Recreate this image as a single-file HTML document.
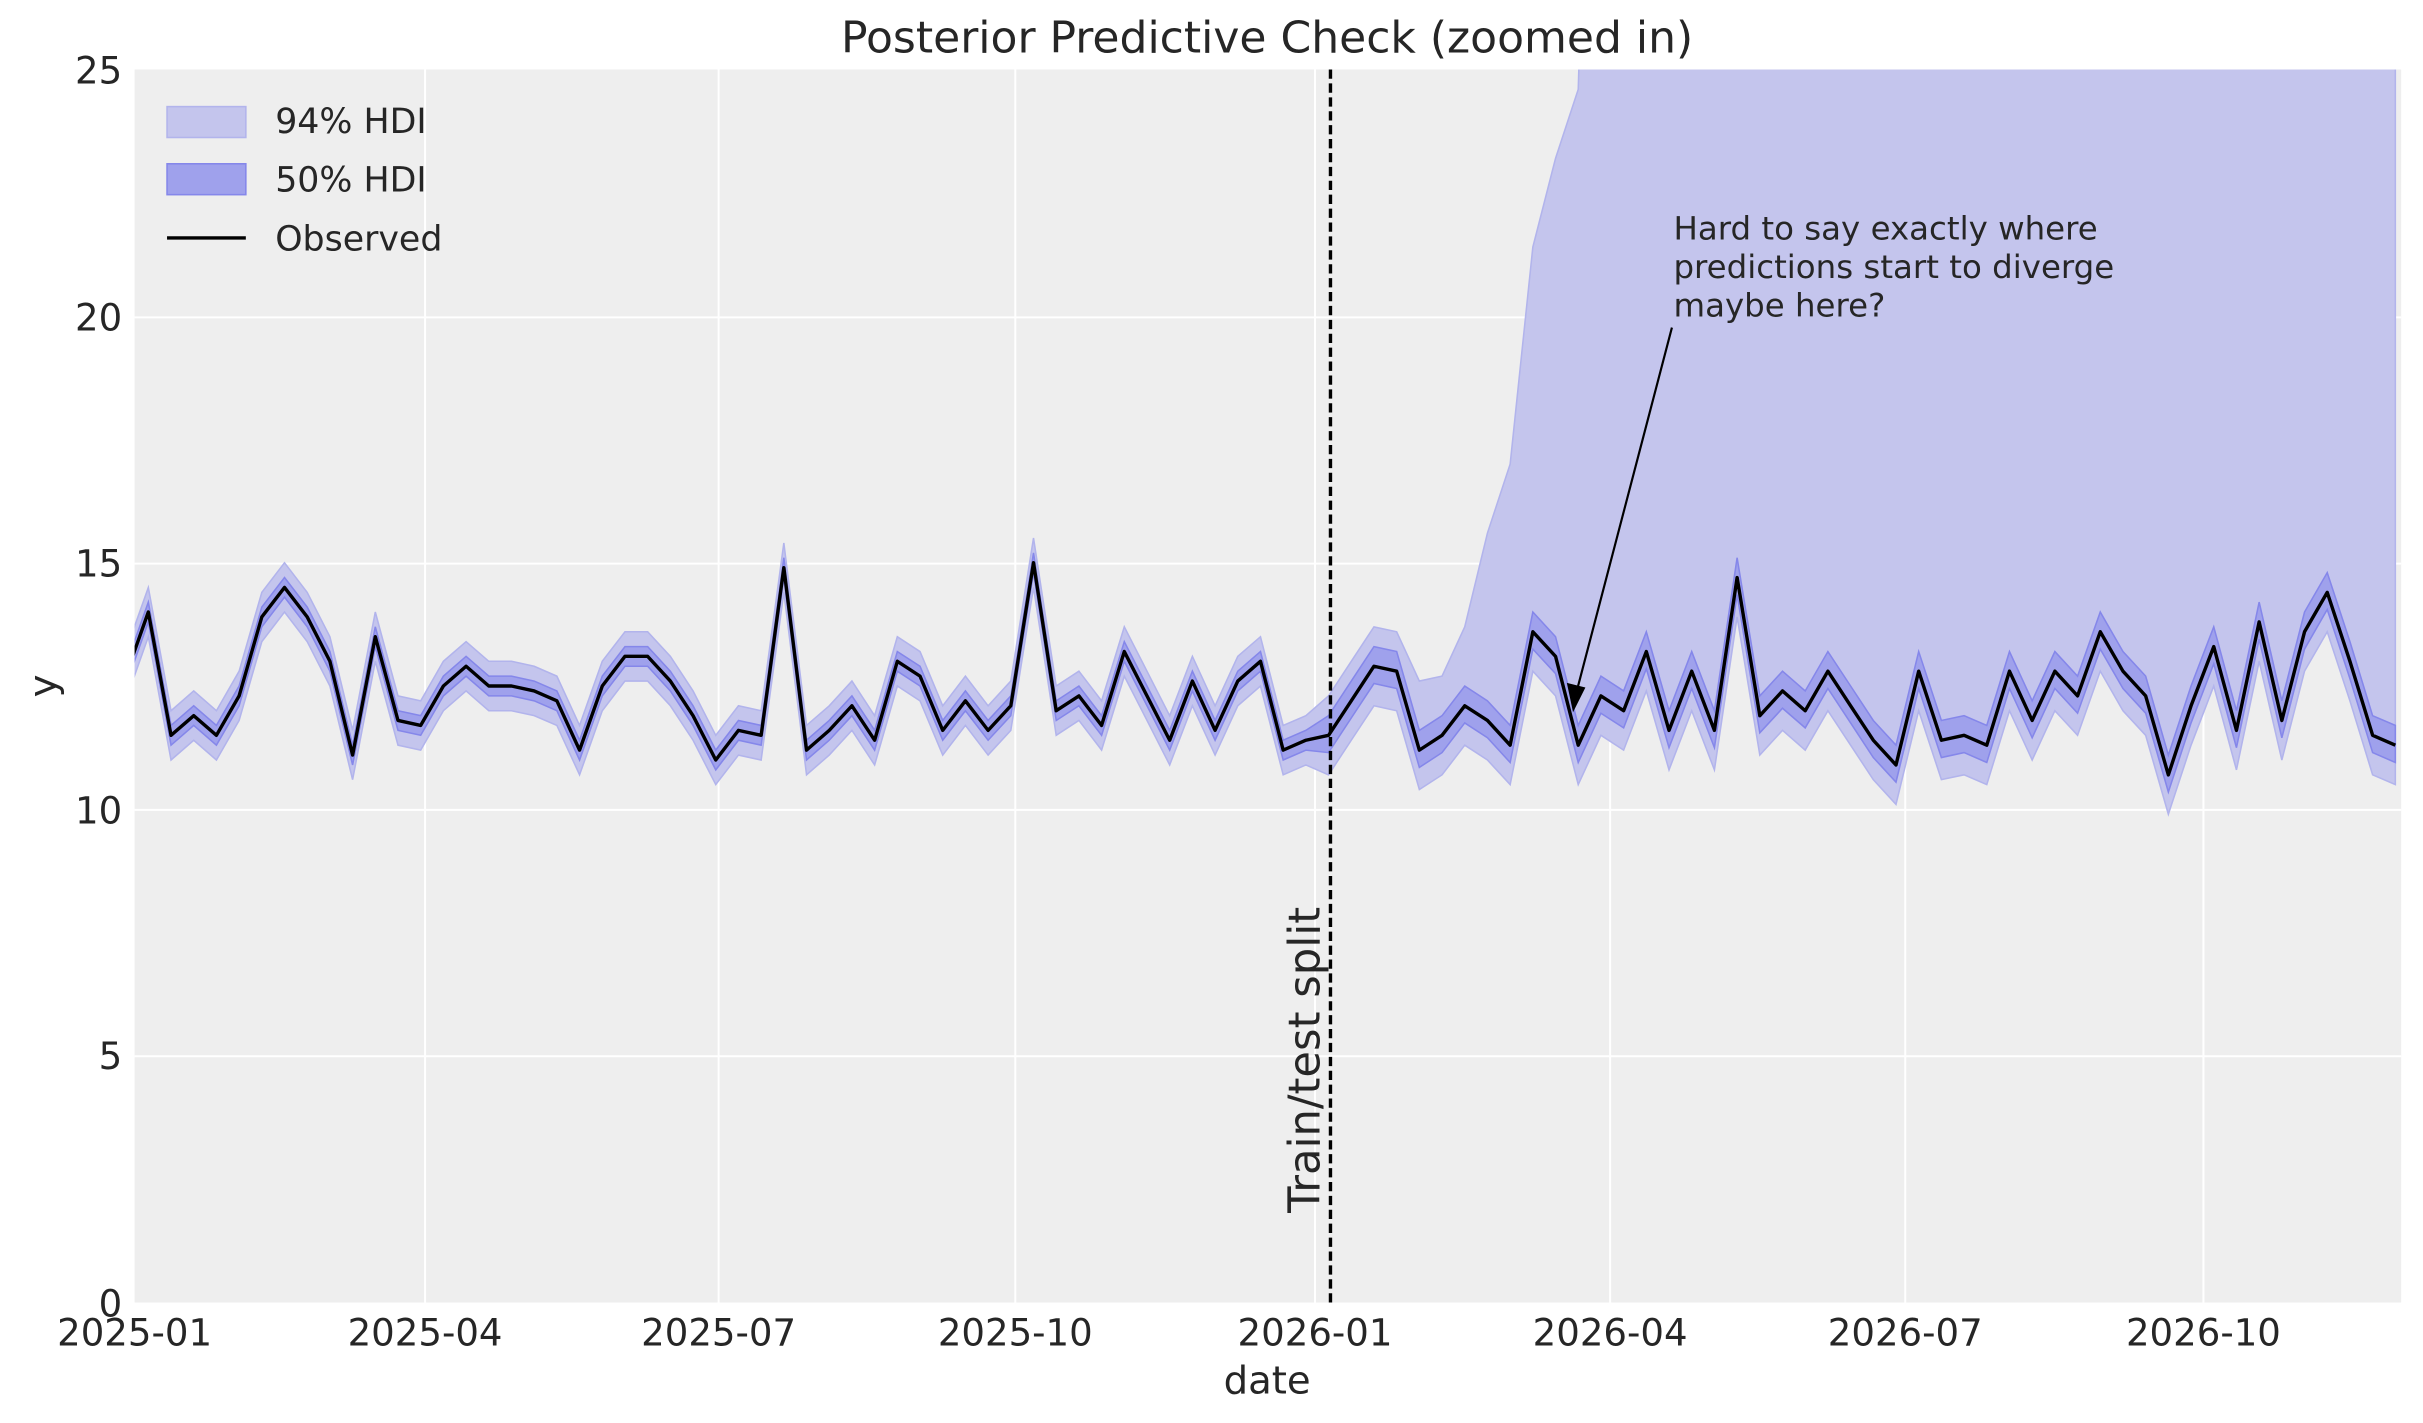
<!DOCTYPE html>
<html><head><meta charset="utf-8"><style>
html,body{margin:0;padding:0;background:#fff;width:2423px;height:1423px;overflow:hidden}
svg{display:block}
text{font-family:"DejaVu Sans","Liberation Sans",sans-serif;fill:#262626}
</style></head><body>
<svg id="s" width="2423" height="1423" viewBox="0 0 1568 921" xmlns="http://www.w3.org/2000/svg">
<defs><clipPath id="c"><rect x="87" y="45" width="1467" height="798"/></clipPath></defs>
<rect x="87" y="45" width="1467" height="798" fill="#eeeeee"/>
<g stroke="#fff" stroke-width="1.3">
<line x1="275" y1="45" x2="275" y2="843"/><line x1="465" y1="45" x2="465" y2="843"/><line x1="657" y1="45" x2="657" y2="843"/><line x1="851" y1="45" x2="851" y2="843"/><line x1="1042" y1="45" x2="1042" y2="843"/><line x1="1233" y1="45" x2="1233" y2="843"/><line x1="1426" y1="45" x2="1426" y2="843"/>
<line x1="87" y1="205.4" x2="1554" y2="205.4"/><line x1="87" y1="364.8" x2="1554" y2="364.8"/><line x1="87" y1="524.2" x2="1554" y2="524.2"/><line x1="87" y1="683.6" x2="1554" y2="683.6"/>
</g>
<g clip-path="url(#c)">
<path id="b94" fill="#c4c5ed" stroke="#b2b4ec" stroke-width="1"/>
<path id="b50" fill="#9fa1ec" stroke="#8587ea" stroke-width="1"/>
<polyline id="obs" fill="none" stroke="#000" stroke-width="2.2" stroke-linejoin="round"/>
</g>
<line x1="861" y1="45" x2="861" y2="843" stroke="#000" stroke-width="2.2" stroke-dasharray="6,3"/>
<text transform="translate(854,785) rotate(-90)" font-size="28">Train/test split</text>
<text x="1083" y="155" font-size="21">Hard to say exactly where</text>
<text x="1083" y="180" font-size="21">predictions start to diverge</text>
<text x="1083" y="205" font-size="21">maybe here?</text>
<line x1="1082" y1="212" x2="1021" y2="445" stroke="#000" stroke-width="1.4"/>
<polygon points="1018,461 1014,442 1026,445" fill="#000"/>
<g font-size="24" text-anchor="end">
<text x="79" y="54">25</text><text x="79" y="214">20</text><text x="79" y="373">15</text><text x="79" y="533">10</text><text x="79" y="692">5</text><text x="79" y="852">0</text>
</g>
<g font-size="24" text-anchor="middle">
<text x="87" y="871">2025-01</text><text x="275" y="871">2025-04</text><text x="465" y="871">2025-07</text><text x="657" y="871">2025-10</text><text x="851" y="871">2026-01</text><text x="1042" y="871">2026-04</text><text x="1233" y="871">2026-07</text><text x="1426" y="871">2026-10</text>
</g>
<text x="820" y="902" font-size="25" text-anchor="middle">date</text>
<text transform="translate(36,444) rotate(-90)" font-size="25" text-anchor="middle">y</text>
<text x="820" y="34" font-size="28.5" text-anchor="middle">Posterior Predictive Check (zoomed in)</text>
<rect x="108" y="69" width="51" height="20" fill="#c4c5ed" stroke="#b2b4ec"/>
<rect x="108" y="106" width="51" height="20" fill="#9fa1ec" stroke="#8587ea"/>
<line x1="108" y1="154" x2="159" y2="154" stroke="#000" stroke-width="2.2"/>
<g font-size="22.5"><text x="178" y="86">94% HDI</text><text x="178" y="124">50% HDI</text><text x="178" y="162">Observed</text></g>
</svg>
<script>
var v=[12.7,14.0,11.5,11.9,11.5,12.3,13.9,14.5,13.9,13.0,11.1,13.5,11.8,11.7,12.5,12.9,12.5,12.5,12.4,12.2,11.2,12.5,13.1,13.1,12.6,11.9,11.0,11.6,11.5,14.9,11.2,11.6,12.1,11.4,13.0,12.7,11.6,12.2,11.6,12.1,15.0,12.0,12.3,11.7,13.2,12.3,11.4,12.6,11.6,12.6,13.0,11.2,11.4,11.5,12.2,12.9,12.8,11.2,11.5,12.1,11.8,11.3,13.6,13.1,11.3,12.3,12.0,13.2,11.6,12.8,11.6,14.7,11.9,12.4,12.0,12.8,12.1,11.4,10.9,12.8,11.4,11.5,11.3,12.8,11.8,12.8,12.3,13.6,12.8,12.3,10.7,12.1,13.3,11.6,13.8,11.8,13.6,14.4,13.0,11.5,11.3];
function X(i){return 81.2+14.69*i} function Y(t){return 843-31.92*t}
var up94={57:12.6,58:12.7,59:13.7,60:15.6,61:17.0,62:21.4,63:23.2,64:24.6};
var o=[],u9=[],l9=[],u5=[],l5=[];
for(var i=0;i<v.length;i++){var x=X(i);o.push(x+','+Y(v[i]).toFixed(1));
var t=i>=53;var a=v[i];
var hu=t?(i>=65?40:(up94[i]||a+0.8)):a+0.5;
u9.push([x,Y(hu)]);l9.push([x,Y(a-(t?0.8:0.5))]);
u5.push([x,Y(a+(t?0.4:0.2))]);l5.push([x,Y(a-(t?0.35:0.2))]);}
function band(u,l){var s='M'+u.map(p=>p[0]+','+p[1].toFixed(1)).join('L');s+='L'+l.slice().reverse().map(p=>p[0]+','+p[1].toFixed(1)).join('L')+'Z';return s}
document.getElementById('obs').setAttribute('points',o.join(' '));
document.getElementById('b94').setAttribute('d',band(u9,l9));
document.getElementById('b50').setAttribute('d',band(u5,l5));
</script>
</body></html>
